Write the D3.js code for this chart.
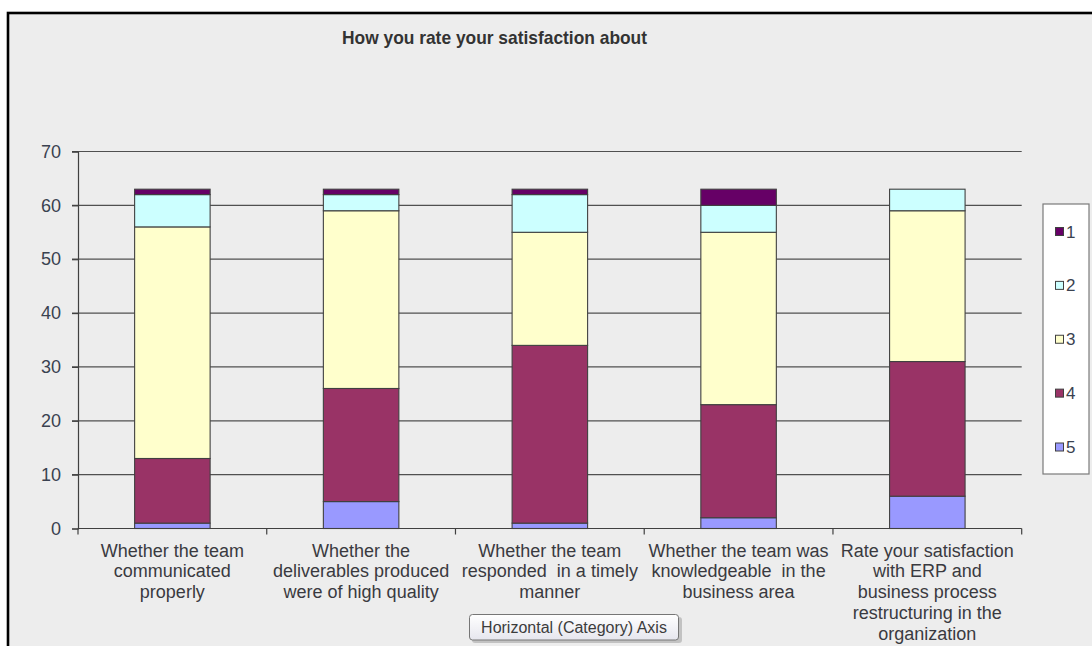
<!DOCTYPE html>
<html>
<head>
<meta charset="utf-8">
<script src="https://cdn.jsdelivr.net/npm/d3@7/dist/d3.min.js"></script>
<style>
  html, body { margin: 0; padding: 0; background: #ffffff; }
  svg { display: block; }
  text { font-family: "Liberation Sans", Arial, sans-serif; }
</style>
</head>
<body>
<svg id="chart" width="1092" height="646"></svg>
<script>
// ---- Data ----
const categories = [
  "Whether the team communicated properly",
  "Whether the deliverables produced were of high quality",
  "Whether the team responded in a timely manner",
  "Whether the team was knowledgeable in the business area",
  "Rate your satisfaction with ERP and business process restructuring in the organization"
];
const categoryLines = [
  ["Whether the team", "communicated", "properly"],
  ["Whether the", "deliverables produced", "were of high quality"],
  ["Whether the team", "responded  in a timely", "manner"],
  ["Whether the team was", "knowledgeable  in the", "business area"],
  ["Rate your satisfaction", "with ERP and", "business process", "restructuring in the", "organization"]
];
const seriesNames = ["1", "2", "3", "4", "5"];
const rating1 = [1, 1, 1, 3, 0];
const rating2 = [6, 3, 7, 5, 4];
const rating3 = [43, 33, 21, 32, 28];
const rating4 = [12, 21, 33, 21, 25];
const rating5 = [1, 5, 1, 2, 6];
const yTicks = [0, 10, 20, 30, 40, 50, 60, 70];
const titleText = "How you rate your satisfaction about";
const tooltipText = "Horizontal (Category) Axis";

const seriesValues = { "1": rating1, "2": rating2, "3": rating3, "4": rating4, "5": rating5 };
const colors = { "1": "#660066", "2": "#CCFFFF", "3": "#FFFFCC", "4": "#993366", "5": "#9999FF" };

const rows = categories.map((c, i) => {
  const r = { category: c };
  seriesNames.forEach(s => r[s] = seriesValues[s][i]);
  return r;
});

// ---- Layout ----
const svg = d3.select("#chart");
const plot = { left: 78, right: 1021.7, top: 151.5, bottom: 528.5 };

// chart area
svg.append("rect")
  .attr("x", 8).attr("y", 13).attr("width", 1200).attr("height", 800)
  .attr("fill", "#EDEDED").attr("stroke", "#000").attr("stroke-width", 2.6);

const x = d3.scaleBand().domain(categories).range([plot.left, plot.right]).padding(0);
const y = d3.scaleLinear().domain([0, 70]).range([plot.bottom, plot.top]);
const barW = x.bandwidth() * 0.4;

// gridlines
svg.append("g").selectAll("line").data(yTicks.filter(t => t > 0)).join("line")
  .attr("x1", plot.left - 6).attr("x2", plot.right)
  .attr("y1", d => y(d)).attr("y2", d => y(d))
  .attr("stroke", "#505050").attr("stroke-width", 1.2);

// y axis
const yAxis = svg.append("g").attr("transform", `translate(${plot.left},0)`)
  .call(d3.axisLeft(y).tickValues(yTicks).tickSize(6).tickPadding(11).tickFormat(d3.format("d")));
yAxis.select(".domain").attr("stroke", "#404040").attr("stroke-width", 1.2);
yAxis.selectAll(".tick line").attr("stroke", "#404040").attr("stroke-width", 1.2);
yAxis.selectAll(".tick text").attr("font-size", 18).attr("fill", "#3a4250")
  .attr("font-family", "Liberation Sans, Arial, sans-serif");

// stacked bars
const stack = d3.stack().keys(["5", "4", "3", "2", "1"]);
const stacked = stack(rows);
svg.append("g").selectAll("g").data(stacked).join("g")
  .attr("fill", d => colors[d.key])
  .selectAll("rect").data(d => d.filter(p => p[1] - p[0] > 0)).join("rect")
  .attr("x", d => x(d.data.category) + (x.bandwidth() - barW) / 2)
  .attr("width", barW)
  .attr("y", d => y(d[1]))
  .attr("height", d => y(d[0]) - y(d[1]))
  .attr("stroke", "#404040").attr("stroke-width", 1.1);

// x axis
const xAxisG = svg.append("g").attr("transform", `translate(0,${plot.bottom})`);
xAxisG.append("line").attr("x1", plot.left).attr("x2", plot.right)
  .attr("y1", 0).attr("y2", 0).attr("stroke", "#404040").attr("stroke-width", 1.2);
const boundaries = categories.map(c => x(c)).concat([plot.right]);
xAxisG.selectAll("line.tk").data(boundaries).join("line").attr("class", "tk")
  .attr("x1", d => d).attr("x2", d => d).attr("y1", 0).attr("y2", 6)
  .attr("stroke", "#404040").attr("stroke-width", 1.2);

// category labels
categories.forEach((c, i) => {
  const t = svg.append("text")
    .attr("x", x(c) + x.bandwidth() / 2)
    .attr("y", 556.5)
    .attr("text-anchor", "middle")
    .attr("font-size", 18).attr("fill", "#3a3a40")
    .style("white-space", "pre");
  categoryLines[i].forEach((ln, j) => {
    t.append("tspan").attr("x", x(c) + x.bandwidth() / 2)
      .attr("dy", j === 0 ? 0 : 20.8).text(ln);
  });
});

// title
svg.append("text")
  .attr("x", 494.5).attr("y", 44)
  .attr("text-anchor", "middle")
  .attr("font-size", 19).attr("font-weight", "bold").attr("fill", "#333")
  .attr("textLength", 305).attr("lengthAdjust", "spacingAndGlyphs")
  .text(titleText);

// legend
const lg = svg.append("g");
lg.append("rect").attr("x", 1043).attr("y", 204).attr("width", 46).attr("height", 270)
  .attr("fill", "#fff").attr("stroke", "#7a7a7a").attr("stroke-width", 1.2);
const legY = d3.scalePoint().domain(seriesNames).range([231.5, 447]);
const li = lg.selectAll("g").data(seriesNames).join("g")
  .attr("transform", d => `translate(1055,${legY(d)})`);
li.append("rect").attr("x", 0.5).attr("y", -4).attr("width", 8).attr("height", 8)
  .attr("fill", d => colors[d]).attr("stroke", "#404040").attr("stroke-width", 1);
li.append("text").attr("x", 11).attr("y", 6).attr("font-size", 17).attr("fill", "#3a4250")
  .text(d => d);

// tooltip
const tipG = svg.append("g");
const defs = svg.append("defs");
const grad = defs.append("linearGradient").attr("id", "tipgrad").attr("x1", 0).attr("y1", 0).attr("x2", 0).attr("y2", 1);
grad.append("stop").attr("offset", "0%").attr("stop-color", "#ffffff");
grad.append("stop").attr("offset", "100%").attr("stop-color", "#e6e6ee");
tipG.append("rect").attr("x", 472).attr("y", 617).attr("width", 210).attr("height", 26)
  .attr("rx", 3).attr("fill", "#000").attr("opacity", 0.18);
tipG.append("rect").attr("x", 469.5).attr("y", 614.5).attr("width", 209).attr("height", 25.5)
  .attr("rx", 3).attr("fill", "url(#tipgrad)").attr("stroke", "#767676").attr("stroke-width", 1);
tipG.append("text").attr("x", 574).attr("y", 633).attr("text-anchor", "middle")
  .attr("font-size", 16).attr("fill", "#3c3c3c").text(tooltipText);
</script>
</body>
</html>
